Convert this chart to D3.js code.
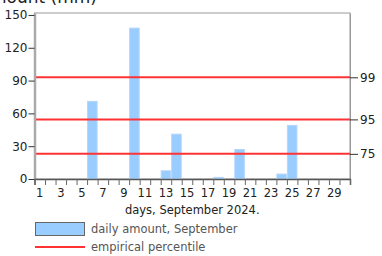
<!DOCTYPE html>
<html>
<head>
<meta charset="utf-8">
<script src="https://cdn.jsdelivr.net/npm/d3@7"></script>
<style>
  body { margin: 0; background: #fff; }
  svg { display: block; font-family: "DejaVu Sans", sans-serif; }
</style>
</head>
<body>
<div id="chart"></div>
<script>
// daily rainfall, September 2024 (mm)
const days = d3.range(1, 31);
const amounts = [0, 0, 0, 0, 0, 71, 0, 0, 0, 138, 0, 0, 7.5, 41, 0, 0, 0, 1.5, 0, 27,
                 0, 0, 0, 4.5, 49, 0, 0, 0, 0, 0];
const percentileLabels = ["75", "95", "99"];
const percentileValues = [23, 54.5, 93];
const yTicks = [0, 30, 60, 90, 120, 150];

const width = 382, height = 256;
const margin = { left: 34.5, right: 350, top: 13, bottom: 179 };

const svg = d3.select("#chart").append("svg")
    .attr("width", width)
    .attr("height", height);

const x = d3.scaleBand()
    .domain(days)
    .range([margin.left, margin.right])
    .paddingInner(0)
    .paddingOuter(0);

const y = d3.scaleLinear()
    .domain([0, 151.8])
    .range([margin.bottom, margin.top]);

// y axis title, mostly off the top of the picture (as in the original)
svg.append("text")
    .attr("x", 97)
    .attr("y", 3)
    .attr("text-anchor", "end")
    .attr("font-size", 17)
    .attr("fill", "#222")
    .text("Amount (mm)");

// frame
svg.append("rect")
    .attr("x", margin.left)
    .attr("y", margin.top)
    .attr("width", margin.right - margin.left)
    .attr("height", margin.bottom - margin.top)
    .attr("fill", "none")
    .attr("stroke", "#999")
    .attr("stroke-width", 1);

// bars
svg.append("g")
  .selectAll("rect")
  .data(days.map((d, i) => ({ day: d, value: amounts[i] })).filter(d => d.value > 0))
  .join("rect")
    .attr("x", d => x(d.day) + 0.5)
    .attr("y", d => y(d.value))
    .attr("width", x.bandwidth() - 1)
    .attr("height", d => y(0) - y(d.value))
    .attr("fill", "#99ccff")
    .attr("stroke", "#b3d6fb")
    .attr("stroke-width", 1);

// percentile lines
svg.append("g")
  .selectAll("line")
  .data(percentileValues)
  .join("line")
    .attr("x1", margin.left)
    .attr("x2", margin.right)
    .attr("y1", d => y(d))
    .attr("y2", d => y(d))
    .attr("stroke", "#ff3333")
    .attr("stroke-width", 2);

// left axis
const yAxis = svg.append("g")
    .attr("transform", `translate(${margin.left},0)`)
    .call(d3.axisLeft(y).tickValues(yTicks).tickSize(6).tickSizeOuter(0));
yAxis.select(".domain").attr("stroke", "#aaa").attr("stroke-width", 2.5);
yAxis.selectAll(".tick line").attr("stroke", "#333");
yAxis.selectAll(".tick text")
    .attr("font-size", 12)
    .attr("font-family", "DejaVu Sans, sans-serif")
    .attr("fill", "#222")
    .attr("x", -7);

// right axis with percentile labels
const yRight = svg.append("g")
    .attr("transform", `translate(${margin.right},0)`)
    .call(d3.axisRight(y).tickValues(percentileValues)
        .tickFormat((d, i) => percentileLabels[i]).tickSize(8).tickSizeOuter(0));
yRight.select(".domain").attr("stroke", "#999");
yRight.selectAll(".tick line").attr("stroke", "#333");
yRight.selectAll(".tick text")
    .attr("font-size", 12)
    .attr("font-family", "DejaVu Sans, sans-serif")
    .attr("fill", "#222")
    .attr("x", 10);

// bottom axis: ticks on day boundaries, labels on odd days
const xEdges = d3.scaleLinear().domain([0, 30]).range([margin.left, margin.right]);
const xAxis = svg.append("g")
    .attr("transform", `translate(0,${margin.bottom})`);
xAxis.call(d3.axisBottom(xEdges).ticks(30).tickSize(6).tickFormat(""))
xAxis.select(".domain").attr("stroke", "#555").attr("stroke-width", 1.5);
xAxis.selectAll(".tick line").attr("stroke", "#666");

svg.append("g")
  .selectAll("text")
  .data(days.filter(d => d % 2 === 1))
  .join("text")
    .attr("x", d => x(d) + x.bandwidth() / 2)
    .attr("y", margin.bottom + 18)
    .attr("text-anchor", "middle")
    .attr("font-size", 11.5)
    .attr("fill", "#222")
    .text(d => d);

svg.append("text")
    .attr("x", (margin.left + margin.right) / 2)
    .attr("y", 214)
    .attr("text-anchor", "middle")
    .attr("font-size", 11.5)
    .attr("fill", "#222")
    .text("days, September 2024.");

// legend
const legend = svg.append("g").attr("transform", "translate(35,222)");
legend.append("rect")
    .attr("x", 0.5).attr("y", 0.5)
    .attr("width", 49).attr("height", 13)
    .attr("fill", "#99ccff")
    .attr("stroke", "#666");
legend.append("text")
    .attr("x", 56).attr("y", 11)
    .attr("font-size", 11.5)
    .attr("fill", "#555")
    .text("daily amount, September");
legend.append("line")
    .attr("x1", 0).attr("x2", 50)
    .attr("y1", 25).attr("y2", 25)
    .attr("stroke", "#ff3333")
    .attr("stroke-width", 2);
legend.append("text")
    .attr("x", 56).attr("y", 29)
    .attr("font-size", 11.5)
    .attr("fill", "#555")
    .text("empirical percentile");
</script>
</body>
</html>
